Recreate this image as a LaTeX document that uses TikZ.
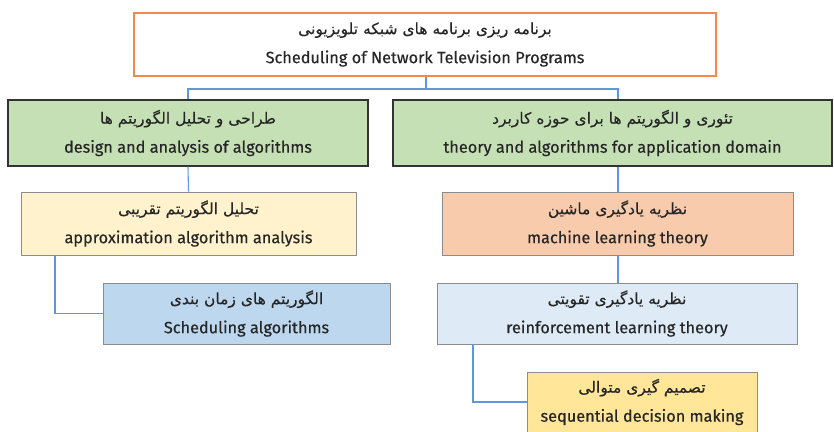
\documentclass[tikz,border=0pt]{standalone}
\usepackage{fontspec}
\setmainfont{Fira Sans}[FakeBold=0.35]
\newfontfamily\fa[Script=Arabic,FakeBold=0.3]{DejaVu Sans}
\TeXXeTstate=1
\definecolor{linkblue}{HTML}{5B9BD5}
\definecolor{txt}{HTML}{262626}
\definecolor{orangeb}{HTML}{F4894A}
\definecolor{greenf}{HTML}{C5E0B4}
\definecolor{creamf}{HTML}{FFF2CC}
\definecolor{salmonf}{HTML}{F8CBAD}
\definecolor{bluef}{HTML}{BDD7EE}
\definecolor{lbluef}{HTML}{DEEBF7}
\definecolor{goldf}{HTML}{FFE699}
\definecolor{grayb}{HTML}{8C8C8C}
\tikzset{
  box/.style={rectangle, draw=grayb, line width=0.9pt, align=center, inner sep=0pt,
    text=txt, font=\fontsize{16.3}{17}\selectfont},
  link/.style={draw=linkblue, line width=1.1pt},
}
\newcommand{\two}[2]{{\fa\fontsize{15.5}{17}\selectfont\beginR #1\endR}\\[12pt]#2}
\begin{document}
\begin{tikzpicture}[x=1pt,y=-1pt]
\useasboundingbox (0,0) rectangle (834,431);
\node[box, draw=orangeb, line width=1.4pt, fill=white, minimum width=582pt, minimum height=63pt] (top) at (425,44.5)
  {\two{برنامه ریزی برنامه های شبکه تلویزیونی}{Scheduling of Network Television Programs}};
\node[box, draw=black!80, line width=1.4pt, fill=greenf, minimum width=360pt, minimum height=66pt] (lg) at (188,133)
  {\two{طراحی و تحلیل الگوریتم ها}{design and analysis of algorithms}};
\node[box, draw=black!80, line width=1.4pt, fill=greenf, minimum width=439pt, minimum height=66pt] (rg) at (612.5,133)
  {\two{تئوری و الگوریتم ها برای حوزه کاربرد}{theory and algorithms for application domain}};
\node[box, fill=creamf, minimum width=335pt, minimum height=63pt] (ap) at (188.5,223.5)
  {\two{تحلیل الگوریتم تقریبی}{approximation algorithm analysis}};
\node[box, fill=salmonf, minimum width=351pt, minimum height=63pt] (ml) at (617.5,223.5)
  {\two{نظریه یادگیری ماشین}{machine learning theory}};
\node[box, fill=bluef, minimum width=287pt, minimum height=61pt] (sa) at (246.5,313.5)
  {\two{الگوریتم های زمان بندی}{Scheduling algorithms}};
\node[box, fill=lbluef, minimum width=360pt, minimum height=61pt] (rl) at (617,313.5)
  {\two{نظریه یادگیری تقویتی}{reinforcement learning theory}};
\node[box, fill=goldf, minimum width=230pt, minimum height=60pt] (sd) at (642,402)
  {\two{تصمیم گیری متوالی}{sequential decision making}};
\coordinate (j) at (426,89);
\coordinate (rx) at (618,0);
\coordinate (ax) at (55,0);
\coordinate (bx) at (473,0);
\draw[link] (top.south -| j) -- (j);
\draw[link] (j) -| (lg.north);
\draw[link] (j) -| (rg.north -| rx);
\draw[link] (lg.south) -- (ap.north);
\draw[link] (ap.south -| ax) |- (sa.west);
\draw[link] (rg.south -| rx) -- (ml.north -| rx);
\draw[link] (ml.south -| rx) -- (rl.north -| rx);
\draw[link] (rl.south -| bx) |- (sd.west);
\end{tikzpicture}
\end{document}
